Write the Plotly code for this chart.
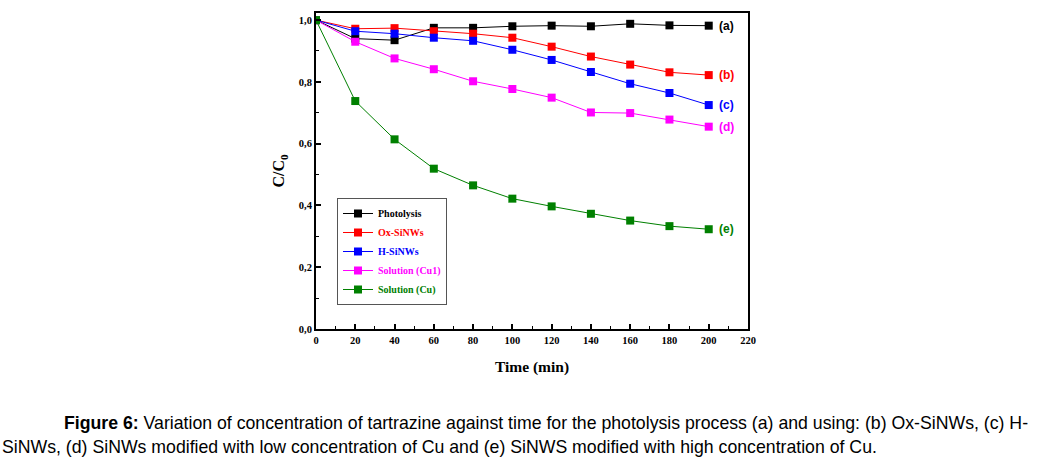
import plotly.graph_objects as go

time = [0, 20, 40, 60, 80, 100, 120, 140, 160, 180, 200]
photolysis = [1.0, 0.940, 0.935, 0.975, 0.975, 0.980, 0.982, 0.980, 0.988, 0.983, 0.982]
ox_sinws = [1.0, 0.972, 0.974, 0.964, 0.956, 0.943, 0.914, 0.882, 0.856, 0.831, 0.822]
h_sinws = [1.0, 0.964, 0.956, 0.943, 0.933, 0.904, 0.871, 0.832, 0.794, 0.764, 0.725]
sol_cu1 = [1.0, 0.930, 0.876, 0.841, 0.802, 0.777, 0.749, 0.701, 0.699, 0.678, 0.655]
sol_cu = [1.0, 0.738, 0.614, 0.519, 0.465, 0.422, 0.397, 0.373, 0.351, 0.333, 0.323]

names = ["Photolysis", "Ox-SiNWs", "H-SiNWs", "Solution (Cu1)", "Solution (Cu)"]
tags = ["(a)", "(b)", "(c)", "(d)", "(e)"]
colors = ["#000000", "#ff0000", "#0000ff", "#ff00ff", "#008000"]
series = [photolysis, ox_sinws, h_sinws, sol_cu1, sol_cu]

x_ticks = list(range(0, 221, 20))
y_ticks = [0.0, 0.2, 0.4, 0.6, 0.8, 1.0]
y_tick_labels = ["0,0", "0,2", "0,4", "0,6", "0,8", "1,0"]

fig = go.Figure()
for name, col, ys in zip(names, colors, series):
    fig.add_trace(go.Scatter(
        x=time, y=ys, mode="lines+markers",
        name=f"<b><span style='color:{col}'>{name}</span></b>",
        line=dict(color=col, width=1),
        marker=dict(symbol="square", size=8, color=col),
    ))

for tag, col, ys in zip(tags, colors, series):
    fig.add_annotation(x=time[-1], y=ys[-1], xref="x", yref="y", text=f"<b>{tag}</b>",
                       showarrow=False, xanchor="left", xshift=8,
                       font=dict(family="Liberation Sans, Arial", size=12, color=col))

W, H = 1040, 461
L, R, T, B = 316, 292, 13, 132
pw, ph = W - L - R, H - T - B

def px(xp):
    return (xp - L) / pw

def py(yp):
    return (H - B - yp) / ph

cap_font = dict(family="Liberation Sans Narrow, Arial Narrow, Liberation Sans", size=17.7, color="#000")
fig.add_annotation(xref="paper", yref="paper", x=px(62), y=py(423), xanchor="left", yanchor="middle",
                   showarrow=False,
                   text="<b>Figure 6:</b> Variation of concentration of tartrazine against time for the photolysis process (a) and using: (b) Ox-SiNWs, (c) H-",
                   font=cap_font)
fig.add_annotation(xref="paper", yref="paper", x=px(0), y=py(447), xanchor="left", yanchor="middle",
                   showarrow=False,
                   text="SiNWs, (d) SiNWs modified with low concentration of Cu and (e) SiNWS modified with high concentration of Cu.",
                   font=cap_font)

axis_common = dict(showline=True, linecolor="black", linewidth=2, mirror=True, ticks="inside",
                   ticklen=5, tickwidth=1.5, tickcolor="black", showgrid=False, zeroline=False,
                   tickfont=dict(family="Liberation Serif, Times New Roman", size=10.5, color="black"))

fig.update_layout(
    width=W, height=H, margin=dict(l=L, r=R, t=T, b=B),
    paper_bgcolor="white", plot_bgcolor="white",
    font=dict(family="Liberation Serif, Times New Roman", color="black"),
    xaxis=dict(range=[0, 220], tickvals=x_ticks, ticktext=[f"<b>{v}</b>" for v in x_ticks],
               title=dict(text="<b>Time (min)</b>", font=dict(size=15.5, family="Liberation Serif"), standoff=17),
               minor=dict(ticks="inside", ticklen=3, tickwidth=1, tickcolor="black", dtick=10, tick0=0),
               **axis_common),
    yaxis=dict(range=[0, 1.023], tickvals=y_ticks, ticktext=[f"<b>{t}</b>" for t in y_tick_labels],
               title=dict(text="<b>C/C<sub>0</sub></b>", font=dict(size=16, family="Liberation Serif"), standoff=10),
               minor=dict(ticks="inside", ticklen=3, tickwidth=1, tickcolor="black", dtick=0.1, tick0=0),
               **axis_common),
    legend=dict(x=px(337), y=py(198), xanchor="left", yanchor="top",
                bordercolor="#555", borderwidth=1, bgcolor="white",
                font=dict(family="Liberation Serif, Times New Roman", size=10),
                itemwidth=30, tracegroupgap=0),
    showlegend=True,
)

fig.write_html("out.html")
